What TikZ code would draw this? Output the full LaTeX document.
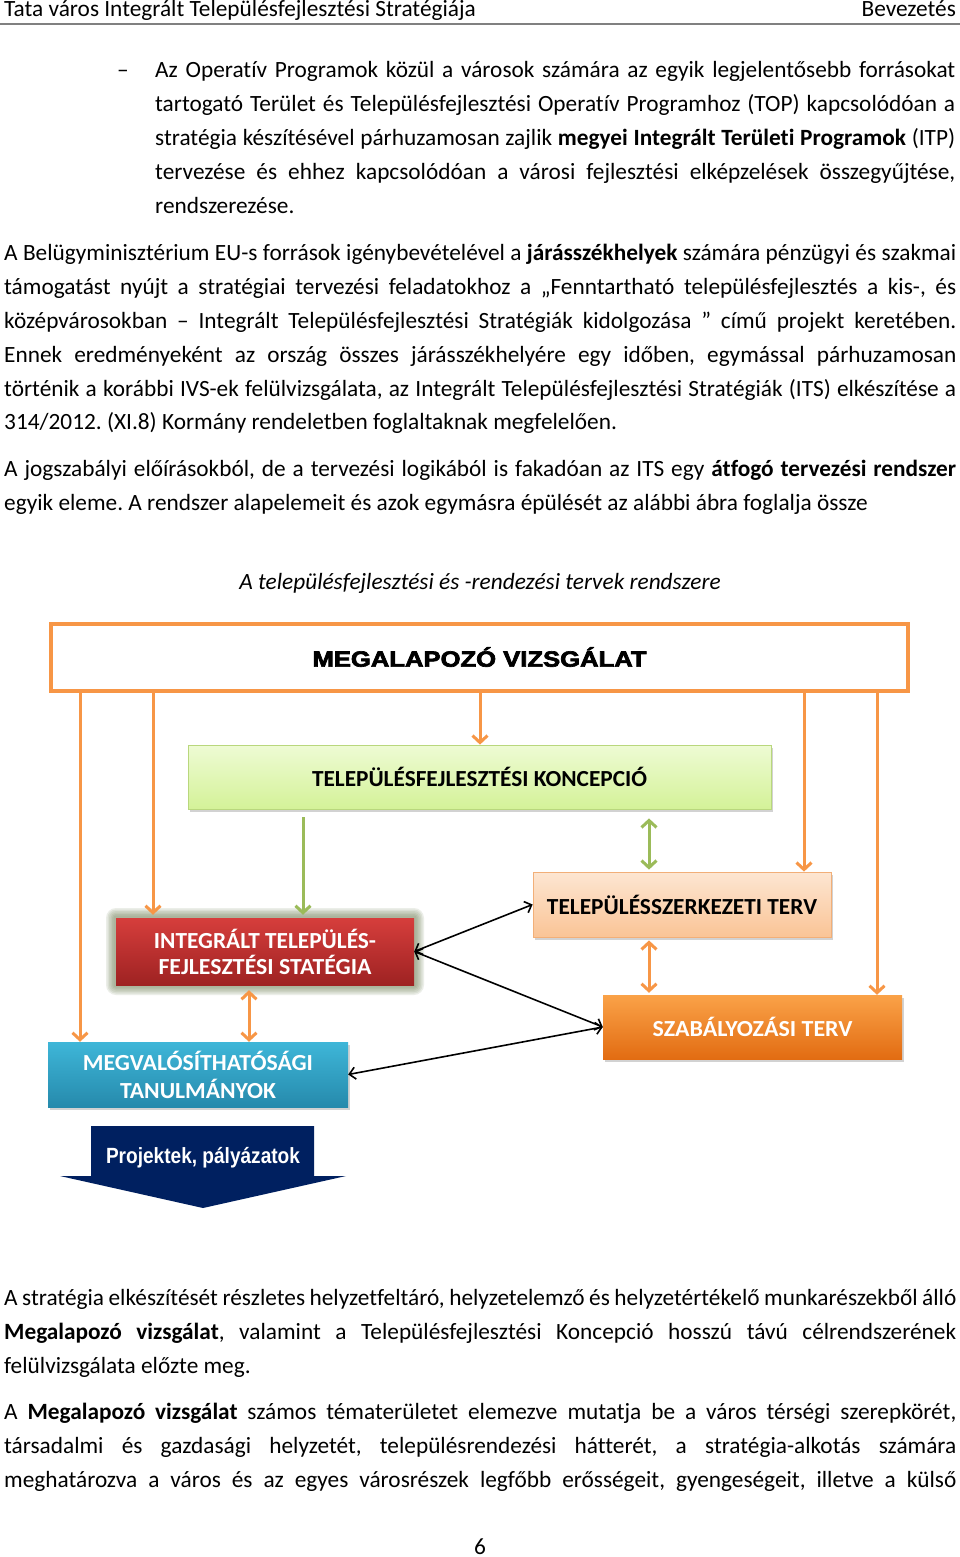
\documentclass[tikz,border=0pt]{standalone}
\usepackage{fontspec}
\usepackage{graphicx}
\setmainfont{Carlito}[Ligatures={TeX,NoCommon}]
\newfontfamily\lsans{Liberation Sans}
\newfontfamily\heavyfont{Liberation Sans}[BoldFeatures={FakeBold=3}]
\usetikzlibrary{arrows.meta,shadows,calc}
\definecolor{orangeA}{RGB}{247,150,70}
\definecolor{greenA}{RGB}{155,187,89}
\definecolor{navyA}{RGB}{0,32,96}
\definecolor{glowA}{RGB}{120,135,95}
\newcommand\bodyf{\fontsize{23.3pt}{34pt}\selectfont\frenchspacing}
\newcommand\boxf{\fontsize{23pt}{28pt}\selectfont\bfseries}
\newcommand\jline[5]{\node[bodytext] (#1) at (#2,#3) {\makebox[#4pt][s]{#5}};}
\newcommand\lline[4]{\node[bodytext] (#1) at (#2,#3) {#4};}
\newcommand\hw[2]{\resizebox{#1pt}{\height}{#2}}
\tikzset{
  bodytext/.style={anchor=base west, inner sep=0pt, font=\bodyf},
  boxbase/.style={inner sep=0pt, anchor=center},
  oarrow/.style={draw=orangeA, line width=3pt, -{Straight Barb[length=7pt,width=15pt]}},
  odbl/.style={draw=orangeA, line width=3pt, {Straight Barb[length=7pt,width=15pt]}-{Straight Barb[length=7pt,width=15pt]}},
  garrow/.style={draw=greenA, line width=3pt, -{Straight Barb[length=7pt,width=15pt]}},
  gdbl/.style={draw=greenA, line width=3pt, {Straight Barb[length=7pt,width=15pt]}-{Straight Barb[length=7pt,width=15pt]}},
  kdbl/.style={draw=black, line width=1.6pt, {Straight Barb[length=6pt,width=12pt]}-{Straight Barb[length=6pt,width=12pt]}},
  shad/.style={drop shadow={shadow xshift=1.5pt, shadow yshift=-2.5pt, opacity=0.35}}
}
\begin{document}
\begin{tikzpicture}[x=1pt,y=-1pt]
\fill[white] (0,0) rectangle (960,1557);
\path[use as bounding box] (0,0) rectangle (960,1557);

% header
\node[bodytext] (hl) at (4,17) {Tata város Integrált Településfejlesztési Stratégiája};
\node[anchor=base east, inner sep=0pt, font=\bodyf] (hr) at (956,17) {Bevezetés};
\draw[color=black!50, line width=1.5pt] (0,24) -- (960,24);

% bullet
\node[bodytext] (dash) at (117,78) {–};
\jline{b1}{155}{78}{800}{Az Operatív Programok közül a városok számára az egyik legjelentősebb forrásokat}
\jline{b2}{155}{112}{800}{tartogató Terület és Településfejlesztési Operatív Programhoz (TOP) kapcsolódóan a}
\jline{b3}{155}{146}{800}{stratégia készítésével párhuzamosan zajlik \textbf{megyei Integrált Területi Programok} (ITP)}
\jline{b4}{155}{180}{800}{tervezése és ehhez kapcsolódóan a városi fejlesztési elképzelések összegyűjtése,}
\lline{b5}{155}{214}{rendszerezése.}

% paragraph 1
\jline{p1}{4}{260}{952}{A Belügyminisztérium EU-s források igénybevételével a \textbf{járásszékhelyek} számára pénzügyi és szakmai}
\jline{p2}{4}{294}{952}{támogatást nyújt a stratégiai tervezési feladatokhoz a „Fenntartható településfejlesztés a kis-, és}
\jline{p3}{4}{328}{952}{középvárosokban – Integrált Településfejlesztési Stratégiák kidolgozása ” című projekt keretében.}
\jline{p4}{4}{362}{952}{Ennek eredményeként az ország összes járásszékhelyére egy időben, egymással párhuzamosan}
\jline{p5}{4}{396}{952}{történik a korábbi IVS-ek felülvizsgálata, az Integrált Településfejlesztési Stratégiák (ITS) elkészítése a}
\lline{p6}{4}{429}{314/2012. (XI.8) Kormány rendeletben foglaltaknak megfelelően.}

% paragraph 2
\jline{q1}{4}{476}{952}{A jogszabályi előírásokból, de a tervezési logikából is fakadóan az ITS egy \textbf{átfogó tervezési rendszer}}
\lline{q2}{4}{510}{egyik eleme. A rendszer alapelemeit és azok egymásra épülését az alábbi ábra foglalja össze}

% caption
\node[anchor=base, inner sep=0pt, font=\bodyf\itshape] (cap) at (480,589) {A településfejlesztési és -rendezési tervek rendszere};

% ---------------- diagram ----------------
\node[boxbase, draw=orangeA, line width=4pt, fill=white, minimum width=857pt, minimum height=67pt] (mv) at (479.5,657.5) {};
\node[inner sep=0pt] (mvt) at (479.5,657) {\resizebox{334pt}{\height}{\heavyfont\bfseries\fontsize{22pt}{26pt}\selectfont MEGALAPOZÓ VIZSGÁLAT}};

\node[boxbase, shad, draw={rgb,255:red,185;green,215;blue,125}, line width=0.8pt, top color={rgb,255:red,238;green,251;blue,212}, bottom color={rgb,255:red,212;green,242;blue,152}, minimum width=583pt, minimum height=64pt] (tfk) at (479.5,777) {\hw{335}{\boxf TELEPÜLÉSFEJLESZTÉSI KONCEPCIÓ}};

\node[boxbase, shad, draw={rgb,255:red,242;green,175;blue,120}, line width=0.8pt, top color={rgb,255:red,253;green,230;blue,210}, bottom color={rgb,255:red,250;green,196;blue,150}, minimum width=298pt, minimum height=65pt] (tszt) at (682,904.5) {\hw{270}{\boxf TELEPÜLÉSSZERKEZETI TERV}};

% glow for ITS
\foreach \g in {10,8.5,7,5.5,4,2.5}{
  \fill[glowA, opacity=0.14, rounded corners=\g pt] ($(116,918)+(-\g,-\g)$) rectangle ($(414,985)+(\g,\g)$);
}
\node[boxbase, top color={rgb,255:red,214;green,62;blue,60}, bottom color={rgb,255:red,158;green,34;blue,34}, minimum width=298pt, minimum height=67pt, text=white, align=center, font=\boxf] (its) at (265,951.5) {\hw{222}{INTEGRÁLT TELEPÜLÉS-}\\[-2pt]\hw{213}{FEJLESZTÉSI STATÉGIA}};

\node[boxbase, shad, top color={rgb,255:red,250;green,162;blue,72}, bottom color={rgb,255:red,226;green,108;blue,18}, minimum width=299pt, minimum height=64pt, text=white] (szt) at (752.5,1027) {\hw{200}{\boxf SZABÁLYOZÁSI TERV}};

\node[boxbase, shad, top color={rgb,255:red,62;green,182;blue,216}, bottom color={rgb,255:red,38;green,138;blue,172}, minimum width=300pt, minimum height=65pt, text=white, align=center, font=\boxf] (mgv) at (198,1074.5) {\hw{230}{MEGVALÓSÍTHATÓSÁGI}\\[0pt]\hw{156}{TANULMÁNYOK}};

% Projektek arrow
\fill[navyA] (91,1126) -- (314,1126) -- (314,1176) -- (346,1176) -- (203,1208) -- (60,1176) -- (91,1176) -- cycle;
\node[inner sep=0pt, text=white] (proj) at (203,1158) {\hw{194}{\lsans\bfseries\fontsize{22pt}{26pt}\selectfont Projektek, pályázatok}};

% column coordinates
\coordinate (c1) at (80,0);
\coordinate (c2) at (153,0);
\coordinate (c3) at (480,0);
\coordinate (c4) at (804,0);
\coordinate (c5) at (877,0);
\coordinate (c6) at (303,0);
\coordinate (c7) at (649,0);
\coordinate (c8) at (249,0);

% orange arrows from MV
\draw[oarrow] (c1 |- mv.south) -- (c1 |- mgv.north);
\draw[oarrow] (c2 |- mv.south) -- ($(c2 |- its.north)+(0,-3)$);
\draw[oarrow] (c3 |- mv.south) -- (c3 |- tfk.north);
\draw[oarrow] (c4 |- mv.south) -- (c4 |- tszt.north);
\draw[oarrow] (c5 |- mv.south) -- (c5 |- szt.north);

% green arrows
\draw[garrow] ($(c6 |- tfk.south)+(0,8)$) -- ($(c6 |- its.north)+(0,-3)$);
\draw[gdbl] ($(c7 |- tfk.south)+(0,9)$) -- ($(c7 |- tszt.north)+(0,-2)$);

% orange double arrows
\draw[odbl] ($(c7 |- tszt.south)+(0,3)$) -- ($(c7 |- szt.north)+(0,-2)$);
\draw[odbl] ($(c8 |- its.south)+(0,5)$) -- (c8 |- mgv.north);

% black double arrows
\draw[kdbl] (its.east) -- (tszt.west);
\draw[kdbl] (its.east) -- (szt.west);
\draw[kdbl] (mgv.east) -- (szt.west);

% ---------------- lower text ----------------
\jline{r1}{4}{1305}{952}{A stratégia elkészítését részletes helyzetfeltáró, helyzetelemző és helyzetértékelő munkarészekből álló}
\jline{r2}{4}{1339}{952}{\textbf{Megalapozó vizsgálat}, valamint a Településfejlesztési Koncepció hosszú távú célrendszerének}
\lline{r3}{4}{1373}{felülvizsgálata előzte meg.}

\jline{s1}{4}{1419}{952}{A \textbf{Megalapozó vizsgálat} számos tématerületet elemezve mutatja be a város térségi szerepkörét,}
\jline{s2}{4}{1453}{952}{társadalmi és gazdasági helyzetét, településrendezési hátterét, a stratégia-alkotás számára}
\jline{s3}{4}{1487}{952}{meghatározva a város és az egyes városrészek legfőbb erősségeit, gyengeségeit, illetve a külső}

\node[anchor=base, inner sep=0pt, font=\bodyf] (pg) at (480,1554) {6};
\end{tikzpicture}
\end{document}
